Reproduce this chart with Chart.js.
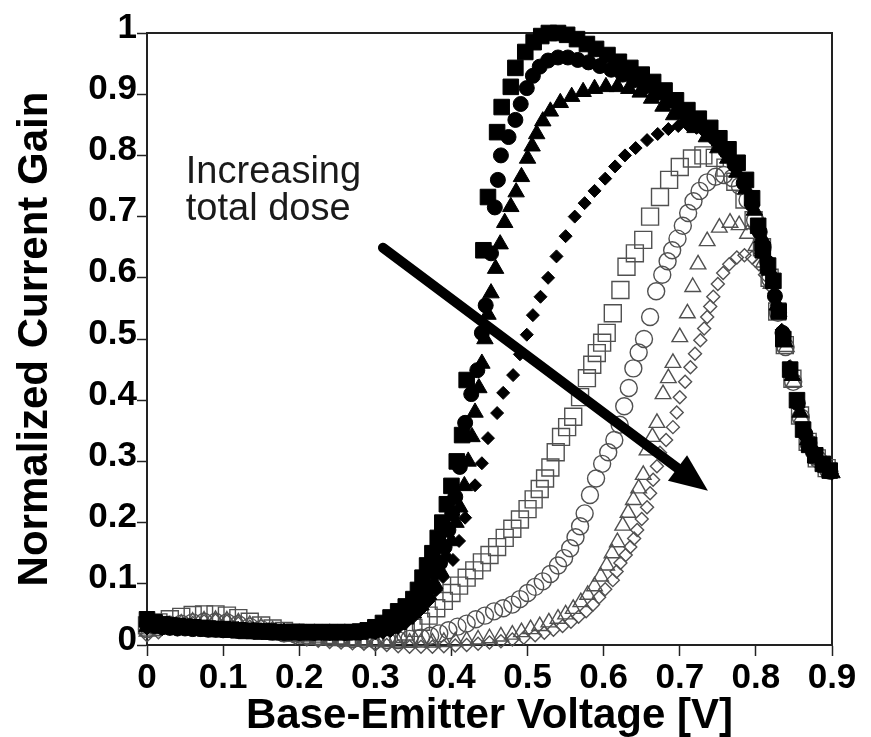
<!DOCTYPE html>
<html>
<head>
<meta charset="utf-8">
<title>Normalized Current Gain vs Base-Emitter Voltage</title>
<script src="https://cdn.jsdelivr.net/npm/chart.js@4.4.1/dist/chart.umd.min.js"></script>
<style>
  html, body { margin: 0; padding: 0; background: #fff; }
  #wrap { width: 871px; height: 737px; position: relative; }
</style>
</head>
<body>
<div id="wrap"><canvas id="gainChart"></canvas></div>
<script>
// ========== 数据 (V_BE, normalized gain) ==========
const xTicks = [0, 0.1, 0.2, 0.3, 0.4, 0.5, 0.6, 0.7, 0.8, 0.9]
const yTicks = [0, 0.1, 0.2, 0.3, 0.4, 0.5, 0.6, 0.7, 0.8, 0.9, 1]

// pre-rad (filled squares)
const filledSquares = [
  [0, 0.042], [0.01, 0.037], [0.02, 0.034], [0.03, 0.032], [0.04, 0.031], [0.05, 0.03], [0.06, 0.029],
  [0.07, 0.028], [0.08, 0.027], [0.09, 0.026], [0.1, 0.026], [0.11, 0.025], [0.12, 0.024], [0.13, 0.023],
  [0.14, 0.023], [0.15, 0.022], [0.16, 0.022], [0.17, 0.021], [0.18, 0.021], [0.19, 0.021], [0.2, 0.021],
  [0.21, 0.021], [0.22, 0.021], [0.23, 0.021], [0.24, 0.021], [0.25, 0.021], [0.26, 0.021], [0.27, 0.021],
  [0.28, 0.022], [0.29, 0.024], [0.3, 0.029], [0.31, 0.036], [0.32, 0.045], [0.33, 0.055], [0.34, 0.063],
  [0.35, 0.075], [0.356, 0.09], [0.362, 0.11], [0.368, 0.13], [0.375, 0.15], [0.382, 0.175], [0.388, 0.2],
  [0.394, 0.23], [0.4, 0.26], [0.407, 0.3], [0.414, 0.343], [0.42, 0.433], [0.442, 0.645], [0.448, 0.732],
  [0.46, 0.838], [0.466, 0.879], [0.478, 0.912], [0.484, 0.943], [0.497, 0.969], [0.508, 0.985],
  [0.518, 0.995], [0.528, 1.0], [0.54, 1.0], [0.552, 0.997], [0.565, 0.99], [0.578, 0.982], [0.59, 0.974],
  [0.605, 0.964], [0.62, 0.953], [0.635, 0.943], [0.65, 0.932], [0.665, 0.92], [0.68, 0.906], [0.695, 0.89],
  [0.71, 0.874], [0.725, 0.86], [0.74, 0.845], [0.752, 0.828], [0.764, 0.81], [0.776, 0.788], [0.787, 0.76],
  [0.795, 0.73], [0.803, 0.685], [0.809, 0.645], [0.816, 0.62], [0.823, 0.595], [0.83, 0.545], [0.836, 0.5],
  [0.845, 0.45], [0.854, 0.4], [0.862, 0.352], [0.87, 0.327], [0.878, 0.31], [0.888, 0.296], [0.897, 0.285]
]

const filledCircles = [
  [0, 0.034], [0.01, 0.031], [0.02, 0.029], [0.03, 0.028], [0.04, 0.027], [0.05, 0.027], [0.06, 0.026],
  [0.07, 0.026], [0.08, 0.025], [0.09, 0.025], [0.1, 0.024], [0.12, 0.023], [0.14, 0.022], [0.16, 0.021],
  [0.18, 0.02], [0.2, 0.02], [0.22, 0.02], [0.24, 0.02], [0.26, 0.02], [0.28, 0.021], [0.3, 0.023],
  [0.31, 0.027], [0.32, 0.033], [0.33, 0.041], [0.34, 0.05], [0.35, 0.06], [0.36, 0.075], [0.37, 0.095],
  [0.378, 0.118], [0.385, 0.134], [0.391, 0.16], [0.396, 0.188], [0.401, 0.215], [0.405, 0.242],
  [0.411, 0.291], [0.418, 0.363], [0.426, 0.41], [0.434, 0.449], [0.44, 0.51], [0.445, 0.555],
  [0.452, 0.64], [0.457, 0.715], [0.461, 0.76], [0.465, 0.8], [0.475, 0.83], [0.484, 0.858],
  [0.491, 0.884], [0.499, 0.91], [0.507, 0.93], [0.516, 0.945], [0.527, 0.955], [0.54, 0.96],
  [0.553, 0.96], [0.566, 0.956], [0.58, 0.952], [0.595, 0.946], [0.61, 0.94], [0.625, 0.932],
  [0.64, 0.923], [0.655, 0.913], [0.67, 0.902], [0.685, 0.89], [0.7, 0.876], [0.715, 0.862],
  [0.73, 0.847], [0.745, 0.83], [0.76, 0.808], [0.772, 0.785], [0.784, 0.755], [0.795, 0.72],
  [0.805, 0.675], [0.815, 0.625], [0.825, 0.57], [0.835, 0.51], [0.845, 0.45], [0.855, 0.395],
  [0.865, 0.345], [0.875, 0.315], [0.888, 0.295], [0.898, 0.283]
]

const filledTriangles = [
  [0, 0.03], [0.02, 0.028], [0.04, 0.027], [0.06, 0.026], [0.08, 0.025], [0.1, 0.024], [0.12, 0.023],
  [0.14, 0.022], [0.16, 0.021], [0.18, 0.02], [0.2, 0.019], [0.22, 0.019], [0.24, 0.019], [0.26, 0.019],
  [0.28, 0.019], [0.3, 0.021], [0.31, 0.023], [0.32, 0.027], [0.33, 0.033], [0.34, 0.042], [0.35, 0.052],
  [0.36, 0.065], [0.37, 0.082], [0.378, 0.1], [0.386, 0.12], [0.393, 0.145], [0.4, 0.17], [0.406, 0.2],
  [0.411, 0.225], [0.417, 0.26], [0.422, 0.3], [0.427, 0.34], [0.431, 0.38], [0.436, 0.42], [0.44, 0.46],
  [0.444, 0.5], [0.448, 0.54], [0.452, 0.575], [0.458, 0.615], [0.464, 0.655], [0.47, 0.69],
  [0.478, 0.716], [0.485, 0.74], [0.492, 0.765], [0.5, 0.795], [0.506, 0.815], [0.512, 0.835],
  [0.52, 0.856], [0.53, 0.872], [0.543, 0.886], [0.558, 0.896], [0.573, 0.904], [0.588, 0.909],
  [0.603, 0.912], [0.618, 0.912], [0.633, 0.909], [0.648, 0.903], [0.663, 0.893], [0.678, 0.88],
  [0.692, 0.866], [0.706, 0.855], [0.72, 0.845], [0.735, 0.83], [0.75, 0.812], [0.763, 0.795],
  [0.775, 0.772], [0.787, 0.745], [0.798, 0.71], [0.808, 0.665], [0.818, 0.612], [0.828, 0.555],
  [0.838, 0.495], [0.848, 0.44], [0.858, 0.38], [0.868, 0.335], [0.88, 0.305], [0.892, 0.29], [0.9, 0.281]
]

const filledDiamonds = [
  [0, 0.027], [0.02, 0.026], [0.04, 0.025], [0.06, 0.025], [0.08, 0.024], [0.1, 0.023], [0.12, 0.022],
  [0.14, 0.021], [0.16, 0.02], [0.18, 0.019], [0.2, 0.018], [0.22, 0.018], [0.24, 0.018], [0.26, 0.018],
  [0.28, 0.018], [0.3, 0.019], [0.31, 0.02], [0.32, 0.023], [0.33, 0.028], [0.34, 0.036], [0.35, 0.046],
  [0.36, 0.058], [0.37, 0.072], [0.38, 0.09], [0.389, 0.111], [0.402, 0.139], [0.41, 0.17], [0.418, 0.208],
  [0.431, 0.261], [0.44, 0.297], [0.448, 0.338], [0.46, 0.379], [0.468, 0.412], [0.481, 0.441],
  [0.49, 0.475], [0.499, 0.507], [0.507, 0.539], [0.517, 0.569], [0.527, 0.6], [0.538, 0.635],
  [0.55, 0.668], [0.562, 0.7], [0.575, 0.722], [0.588, 0.742], [0.602, 0.762], [0.615, 0.782],
  [0.628, 0.8], [0.642, 0.812], [0.657, 0.825], [0.671, 0.835], [0.685, 0.843], [0.698, 0.848],
  [0.71, 0.85], [0.722, 0.845], [0.735, 0.835], [0.748, 0.82], [0.76, 0.802], [0.772, 0.78],
  [0.783, 0.752], [0.794, 0.72], [0.804, 0.68], [0.814, 0.632], [0.824, 0.575], [0.834, 0.515],
  [0.844, 0.455], [0.854, 0.398], [0.864, 0.348], [0.876, 0.312], [0.89, 0.29], [0.9, 0.28]
]

const openSquares = [
  [0, 0.032], [0.015, 0.037], [0.03, 0.042], [0.045, 0.046], [0.06, 0.049], [0.075, 0.05], [0.09, 0.05],
  [0.105, 0.048], [0.12, 0.044], [0.135, 0.038], [0.15, 0.032], [0.165, 0.027], [0.18, 0.023],
  [0.195, 0.02], [0.21, 0.017], [0.225, 0.015], [0.24, 0.014], [0.255, 0.013], [0.27, 0.012],
  [0.285, 0.012], [0.3, 0.012], [0.315, 0.014], [0.33, 0.018], [0.34, 0.022], [0.35, 0.028],
  [0.36, 0.038], [0.37, 0.048], [0.38, 0.06], [0.39, 0.072], [0.4, 0.085], [0.41, 0.097], [0.42, 0.11],
  [0.43, 0.122], [0.44, 0.135], [0.45, 0.147], [0.46, 0.16], [0.47, 0.175], [0.48, 0.19], [0.49, 0.205],
  [0.5, 0.222], [0.508, 0.238], [0.516, 0.255], [0.523, 0.272], [0.53, 0.29], [0.537, 0.315],
  [0.544, 0.34], [0.552, 0.356], [0.56, 0.373], [0.569, 0.405], [0.578, 0.436], [0.585, 0.458],
  [0.591, 0.477], [0.598, 0.494], [0.604, 0.51], [0.612, 0.542], [0.622, 0.58], [0.63, 0.618],
  [0.641, 0.64], [0.652, 0.662], [0.661, 0.7], [0.674, 0.732], [0.686, 0.76], [0.7, 0.781],
  [0.716, 0.795], [0.731, 0.8], [0.746, 0.796], [0.76, 0.78], [0.773, 0.757], [0.785, 0.728],
  [0.797, 0.694], [0.808, 0.65], [0.818, 0.6], [0.828, 0.545], [0.838, 0.49], [0.848, 0.435],
  [0.858, 0.375], [0.868, 0.332], [0.88, 0.305], [0.893, 0.289]
]

const openCircles = [
  [0, 0.026], [0.015, 0.029], [0.03, 0.033], [0.045, 0.035], [0.06, 0.037], [0.075, 0.038], [0.09, 0.038],
  [0.105, 0.037], [0.12, 0.034], [0.135, 0.03], [0.15, 0.026], [0.165, 0.022], [0.18, 0.019],
  [0.195, 0.017], [0.21, 0.015], [0.225, 0.013], [0.24, 0.012], [0.255, 0.011], [0.27, 0.01],
  [0.285, 0.009], [0.3, 0.008], [0.315, 0.008], [0.33, 0.008], [0.345, 0.01], [0.36, 0.012],
  [0.372, 0.015], [0.384, 0.019], [0.396, 0.024], [0.408, 0.03], [0.42, 0.035], [0.432, 0.042],
  [0.444, 0.048], [0.456, 0.055], [0.468, 0.06], [0.48, 0.066], [0.49, 0.075], [0.5, 0.085],
  [0.51, 0.095], [0.52, 0.104], [0.53, 0.116], [0.54, 0.13], [0.548, 0.142], [0.556, 0.158],
  [0.563, 0.176], [0.569, 0.194], [0.575, 0.215], [0.582, 0.245], [0.59, 0.272], [0.598, 0.296],
  [0.606, 0.315], [0.614, 0.335], [0.621, 0.36], [0.627, 0.39], [0.633, 0.42], [0.639, 0.452],
  [0.646, 0.478], [0.653, 0.5], [0.661, 0.536], [0.669, 0.578], [0.677, 0.605], [0.684, 0.627],
  [0.69, 0.645], [0.697, 0.664], [0.704, 0.685], [0.711, 0.706], [0.718, 0.725], [0.726, 0.742],
  [0.736, 0.756], [0.747, 0.765], [0.758, 0.768], [0.769, 0.763], [0.779, 0.75], [0.789, 0.727],
  [0.799, 0.694], [0.809, 0.65], [0.819, 0.598], [0.829, 0.543], [0.839, 0.487], [0.849, 0.43],
  [0.859, 0.372], [0.869, 0.33], [0.882, 0.303], [0.895, 0.286]
]

const openTriangles = [
  [0, 0.022], [0.015, 0.026], [0.03, 0.031], [0.045, 0.035], [0.06, 0.038], [0.075, 0.04], [0.09, 0.041],
  [0.105, 0.04], [0.12, 0.037], [0.135, 0.033], [0.15, 0.029], [0.165, 0.024], [0.18, 0.02],
  [0.195, 0.017], [0.21, 0.014], [0.225, 0.012], [0.24, 0.01], [0.255, 0.009], [0.27, 0.008],
  [0.285, 0.007], [0.3, 0.006], [0.315, 0.005], [0.33, 0.004], [0.345, 0.004], [0.36, 0.004],
  [0.375, 0.004], [0.39, 0.005], [0.405, 0.006], [0.42, 0.007], [0.435, 0.009], [0.45, 0.011],
  [0.465, 0.014], [0.48, 0.017], [0.492, 0.021], [0.504, 0.026], [0.516, 0.031], [0.528, 0.037],
  [0.54, 0.043], [0.55, 0.05], [0.56, 0.059], [0.57, 0.07], [0.579, 0.082], [0.588, 0.096],
  [0.596, 0.112], [0.604, 0.13], [0.611, 0.15], [0.618, 0.168], [0.625, 0.195], [0.632, 0.216],
  [0.639, 0.237], [0.646, 0.256], [0.652, 0.278], [0.657, 0.318], [0.664, 0.34], [0.67, 0.363],
  [0.678, 0.41], [0.685, 0.436], [0.691, 0.461], [0.7, 0.503], [0.71, 0.542], [0.717, 0.585],
  [0.724, 0.622], [0.736, 0.66], [0.752, 0.682], [0.766, 0.69], [0.778, 0.686], [0.789, 0.672],
  [0.8, 0.652], [0.81, 0.625], [0.82, 0.59], [0.83, 0.545], [0.84, 0.487], [0.85, 0.43], [0.86, 0.372],
  [0.871, 0.33], [0.884, 0.302], [0.897, 0.284]
]

const openDiamonds = [
  [0, 0.016], [0.015, 0.021], [0.03, 0.027], [0.045, 0.032], [0.06, 0.036], [0.075, 0.039], [0.09, 0.04],
  [0.105, 0.039], [0.12, 0.035], [0.135, 0.03], [0.15, 0.025], [0.165, 0.02], [0.18, 0.016],
  [0.195, 0.012], [0.21, 0.009], [0.225, 0.007], [0.24, 0.005], [0.255, 0.004], [0.27, 0.003],
  [0.285, 0.002], [0.3, 0.001], [0.315, 0.0], [0.33, -0.002], [0.345, -0.003], [0.36, -0.003],
  [0.375, -0.003], [0.39, -0.002], [0.405, -0.001], [0.42, 0.0], [0.435, 0.002], [0.45, 0.004],
  [0.465, 0.006], [0.48, 0.009], [0.495, 0.012], [0.51, 0.016], [0.522, 0.02], [0.534, 0.025],
  [0.546, 0.031], [0.557, 0.038], [0.567, 0.046], [0.577, 0.055], [0.586, 0.066], [0.594, 0.078],
  [0.602, 0.091], [0.612, 0.106], [0.617, 0.12], [0.622, 0.134], [0.629, 0.147], [0.635, 0.16],
  [0.64, 0.174], [0.644, 0.188], [0.65, 0.206], [0.657, 0.225], [0.661, 0.248], [0.665, 0.27],
  [0.67, 0.292], [0.674, 0.314], [0.682, 0.335], [0.691, 0.356], [0.696, 0.38], [0.7, 0.405],
  [0.707, 0.43], [0.714, 0.454], [0.72, 0.476], [0.727, 0.498], [0.732, 0.517], [0.736, 0.536],
  [0.74, 0.553], [0.744, 0.569], [0.75, 0.59], [0.757, 0.608], [0.765, 0.622], [0.775, 0.633],
  [0.785, 0.637], [0.795, 0.633], [0.804, 0.622], [0.812, 0.605], [0.82, 0.585], [0.828, 0.555],
  [0.836, 0.51], [0.845, 0.455], [0.854, 0.4], [0.863, 0.35], [0.873, 0.322], [0.886, 0.3], [0.898, 0.284]
]

// ========== 注释 ==========
const noteLines = ['Increasing', 'total dose']
const noteAnchor = [0.051, 0.755] // baseline of first line
const arrowFrom = [0.31, 0.649]
const arrowTo = [0.737, 0.252]

const FONT = '"Liberation Sans", Arial, Helvetica, sans-serif'

function fmtTick(v) {
  const r = Math.round(v * 10) / 10
  return r === 0 ? '0' : String(r)
}

function series(label, pairs, style, radius, filled) {
  return {
    label: label,
    data: pairs.map(p => ({ x: p[0], y: p[1] })),
    showLine: false,
    clip: false,
    pointStyle: style,
    pointRadius: radius,
    pointHoverRadius: radius,
    pointBackgroundColor: filled ? '#000' : 'rgba(0,0,0,0)',
    pointBorderColor: filled ? '#000' : '#505050',
    pointBorderWidth: filled ? 1 : 1.4
  }
}

// 图框 (top/right border)
const framePlugin = {
  id: 'frame',
  beforeDatasetsDraw(chart) {
    const { ctx, chartArea: a } = chart
    ctx.save()
    ctx.strokeStyle = '#222'
    ctx.lineWidth = 2
    ctx.strokeRect(a.left, a.top, a.right - a.left, a.bottom - a.top)
    ctx.restore()
  }
}

// 箭头 + 文字
const notePlugin = {
  id: 'note',
  afterDatasetsDraw(chart) {
    const { ctx, scales } = chart
    const xs = scales.x
    const ys = scales.y

    const x0 = xs.getPixelForValue(arrowFrom[0])
    const y0 = ys.getPixelForValue(arrowFrom[1])
    const x1 = xs.getPixelForValue(arrowTo[0])
    const y1 = ys.getPixelForValue(arrowTo[1])
    const ang = Math.atan2(y1 - y0, x1 - x0)
    const headLen = 38
    const headHalf = 16
    const bx = x1 - headLen * Math.cos(ang)
    const by = y1 - headLen * Math.sin(ang)

    ctx.save()
    ctx.strokeStyle = '#000'
    ctx.fillStyle = '#000'
    ctx.lineWidth = 10
    ctx.lineCap = 'round'
    ctx.beginPath()
    ctx.moveTo(x0, y0)
    ctx.lineTo(bx + 4 * Math.cos(ang), by + 4 * Math.sin(ang))
    ctx.stroke()

    ctx.beginPath()
    ctx.moveTo(x1, y1)
    ctx.lineTo(bx - headHalf * Math.sin(ang), by + headHalf * Math.cos(ang))
    ctx.lineTo(bx + headHalf * Math.sin(ang), by - headHalf * Math.cos(ang))
    ctx.closePath()
    ctx.fill()

    ctx.font = '38px ' + FONT
    ctx.fillStyle = '#1a1a1a'
    ctx.textAlign = 'left'
    ctx.textBaseline = 'alphabetic'
    const tx = xs.getPixelForValue(noteAnchor[0])
    const ty = ys.getPixelForValue(noteAnchor[1])
    noteLines.forEach((line, i) => ctx.fillText(line, tx, ty + i * 37))
    ctx.restore()
  }
}

const gainCtx = document.getElementById('gainChart').getContext('2d')
const gainChart = new Chart(gainCtx, {
  type: 'scatter',
  data: {
    datasets: [
      series('filled square', filledSquares, 'rect', 11, true),
      series('filled circle', filledCircles, 'circle', 7.5, true),
      series('filled triangle', filledTriangles, 'triangle', 9.5, true),
      series('filled diamond', filledDiamonds, 'rectRot', 6.5, true),
      series('open square', openSquares, 'rect', 12, false),
      series('open circle', openCircles, 'circle', 8.5, false),
      series('open triangle', openTriangles, 'triangle', 9, false),
      series('open diamond', openDiamonds, 'rectRot', 6.5, false)
    ]
  },
  options: {
    responsive: true,
    maintainAspectRatio: false,
    animation: false,
    events: [],
    layout: { padding: { top: 33, right: 39, bottom: 0, left: 0 } },
    plugins: { legend: { display: false }, tooltip: { enabled: false } },
    scales: {
      x: {
        type: 'linear',
        min: xTicks[0],
        max: xTicks[xTicks.length - 1],
        afterFit: s => { s.height = 92 },
        afterBuildTicks: s => { s.ticks = xTicks.map(v => ({ value: v })) },
        border: { display: true, color: '#222', width: 2 },
        grid: { drawOnChartArea: false, drawTicks: true, tickLength: 11, tickColor: '#222', tickWidth: 1.5 },
        ticks: {
          color: '#000',
          font: { family: FONT, size: 35, weight: 'bold' },
          padding: 1,
          maxRotation: 0,
          autoSkip: false,
          callback: v => fmtTick(v)
        },
        title: {
          display: true,
          text: 'Base-Emitter Voltage [V]',
          color: '#000',
          font: { family: FONT, size: 42, weight: 'bold', lineHeight: 1 },
          padding: 0
        }
      },
      y: {
        type: 'linear',
        min: yTicks[0],
        max: yTicks[yTicks.length - 1],
        afterFit: s => { s.width = 147 },
        afterBuildTicks: s => { s.ticks = yTicks.map(v => ({ value: v })) },
        border: { display: true, color: '#222', width: 2 },
        grid: { drawOnChartArea: false, drawTicks: true, tickLength: 10, tickColor: '#222', tickWidth: 1.5 },
        ticks: {
          color: '#000',
          font: { family: FONT, size: 35, weight: 'bold' },
          padding: 0,
          labelOffset: -5,
          autoSkip: false,
          callback: v => fmtTick(v)
        },
        title: {
          display: true,
          text: 'Normalized Current Gain',
          color: '#000',
          font: { family: FONT, size: 42, weight: 'bold', lineHeight: 1 },
          padding: { top: 14, bottom: 0 }
        }
      }
    }
  },
  plugins: [framePlugin, notePlugin]
})
</script>
</body>
</html>
